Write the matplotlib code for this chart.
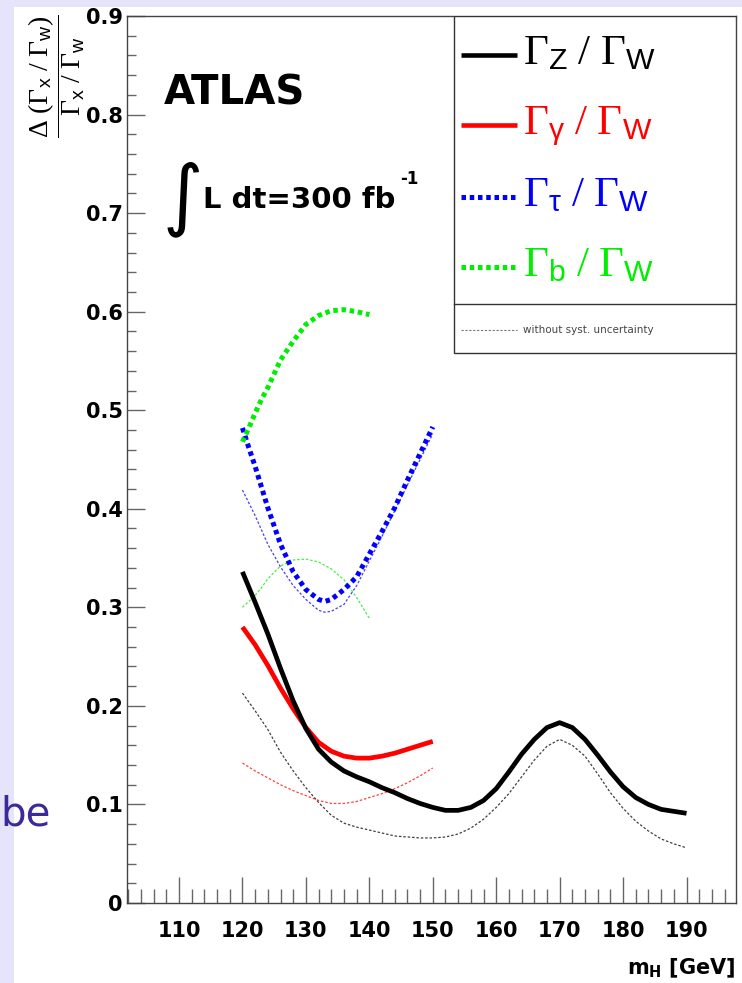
import matplotlib
matplotlib.use('Agg')
import matplotlib.pyplot as plt
from matplotlib.patches import Rectangle
from matplotlib.ticker import MultipleLocator, FuncFormatter

plt.rcParams['mathtext.fontset'] = 'custom'
plt.rcParams['mathtext.rm'] = 'Liberation Serif'
plt.rcParams['mathtext.it'] = 'Liberation Serif:italic'
plt.rcParams['mathtext.sf'] = 'Liberation Sans'
plt.rcParams['mathtext.bf'] = 'DejaVu Sans:bold'

# Gamma_Z / Gamma_W
mass_z = [120, 122, 124, 126, 128, 130, 132, 134, 136, 138, 140, 142, 144, 146, 148, 150,
          152, 154, 156, 158, 160, 162, 164, 166, 168, 170, 172, 174, 176, 178, 180, 182,
          184, 186, 188, 190]
ratio_z = [0.336, 0.305, 0.273, 0.238, 0.205, 0.177, 0.156, 0.143, 0.134, 0.128, 0.123, 0.117,
           0.112, 0.106, 0.101, 0.097, 0.094, 0.094, 0.097, 0.104, 0.116, 0.133, 0.151, 0.166,
           0.178, 0.183, 0.178, 0.166, 0.150, 0.133, 0.118, 0.107, 0.100, 0.095, 0.093, 0.091]
ratio_z_nosyst = [0.213, 0.195, 0.176, 0.153, 0.134, 0.117, 0.102, 0.089, 0.081, 0.077, 0.074,
                  0.071, 0.068, 0.067, 0.066, 0.066, 0.067, 0.070, 0.076, 0.085, 0.097, 0.111,
                  0.128, 0.145, 0.159, 0.166, 0.160, 0.149, 0.131, 0.112, 0.096, 0.083, 0.073,
                  0.065, 0.060, 0.056]

# Gamma_gamma / Gamma_W
mass_gamma = [120, 122, 124, 126, 128, 130, 132, 134, 136, 138, 140, 142, 144, 146, 148, 150]
ratio_gamma = [0.280, 0.262, 0.241, 0.218, 0.197, 0.178, 0.163, 0.154, 0.149, 0.147, 0.147,
               0.149, 0.152, 0.156, 0.160, 0.164]
ratio_gamma_nosyst = [0.142, 0.134, 0.127, 0.120, 0.114, 0.109, 0.104, 0.101, 0.101, 0.103,
                      0.107, 0.111, 0.116, 0.122, 0.129, 0.137]

# Gamma_tau / Gamma_W
mass_tau = [120, 121, 122, 124, 126, 128, 130, 132, 133, 134, 136, 138, 140, 142, 144, 146, 148, 150]
ratio_tau = [0.482, 0.462, 0.443, 0.401, 0.364, 0.336, 0.318, 0.308, 0.306, 0.308, 0.318, 0.331,
             0.354, 0.377, 0.401, 0.429, 0.456, 0.483]
ratio_tau_nosyst = [0.419, 0.406, 0.393, 0.364, 0.341, 0.322, 0.308, 0.297, 0.295, 0.296, 0.303,
                    0.322, 0.347, 0.372, 0.398, 0.424, 0.450, 0.476]

# Gamma_b / Gamma_W
mass_b = [120, 121, 122, 123, 124, 126, 128, 130, 132, 134, 136, 138, 140]
ratio_b = [0.468, 0.482, 0.497, 0.511, 0.523, 0.551, 0.570, 0.587, 0.596, 0.601, 0.602, 0.600, 0.597]
ratio_b_nosyst = [0.300, 0.306, 0.312, 0.320, 0.329, 0.342, 0.348, 0.349, 0.346, 0.339, 0.328,
                  0.310, 0.289]

legend_labels = [r'$\Gamma_{\mathsf{Z}}\ /\ \Gamma_{\mathsf{W}}$',
                 r'$\Gamma_{\mathsf{\gamma}}\ /\ \Gamma_{\mathsf{W}}$',
                 r'$\Gamma_{\mathsf{\tau}}\ /\ \Gamma_{\mathsf{W}}$',
                 r'$\Gamma_{\mathsf{b}}\ /\ \Gamma_{\mathsf{W}}$']
colors = ['black', '#ff0000', '#0000ff', '#00ee00']
dots = (0, (0.9, 0.75))

fig = plt.figure(figsize=(7.42, 9.83), dpi=100)
fig.patch.set_facecolor('#e4e4fa')
fig.add_artist(Rectangle((14 / 742, 0), 1, 1 - 7 / 983, transform=fig.transFigure,
                         facecolor='white', edgecolor='none', zorder=-1))

ax = fig.add_axes([127 / 742, 80 / 983, 609 / 742, 887 / 983])

# thin curves: without systematic uncertainty
thin = dict(lw=0.9, ls=(0, (2, 1.5)), alpha=0.75)
ax.plot(mass_z, ratio_z_nosyst, color=colors[0], **thin)
ax.plot(mass_gamma, ratio_gamma_nosyst, color=colors[1], **thin)
ax.plot(mass_tau, ratio_tau_nosyst, color=colors[2], **thin)
ax.plot(mass_b, ratio_b_nosyst, color=colors[3], **thin)

# thick curves
ax.plot(mass_gamma, ratio_gamma, color=colors[1], lw=3.4, solid_capstyle='butt')
ax.plot(mass_z, ratio_z, color=colors[0], lw=3.4, solid_capstyle='butt')
ax.plot(mass_tau, ratio_tau, color=colors[2], lw=3.6, ls=dots, dash_capstyle='butt')
ax.plot(mass_b, ratio_b, color=colors[3], lw=3.6, ls=dots, dash_capstyle='butt')

ax.set_xlim(101.8, 197.8)
ax.set_ylim(0, 0.9)
ax.xaxis.set_major_locator(MultipleLocator(10))
ax.xaxis.set_minor_locator(MultipleLocator(2))
ax.yaxis.set_major_locator(MultipleLocator(0.1))
ax.yaxis.set_minor_locator(MultipleLocator(0.02))
ax.yaxis.set_major_formatter(FuncFormatter(lambda v, p: '0' if abs(v) < 1e-9 else '%.1f' % v))

ax.tick_params(which='both', direction='in', top=False, right=False, color='#666666', width=1)
ax.xaxis.set_tick_params(which='major', length=19, pad=13)
ax.xaxis.set_tick_params(which='minor', length=10)
ax.yaxis.set_tick_params(which='major', length=13, pad=3)
ax.yaxis.set_tick_params(which='minor', length=6.5)
for lab in ax.get_xticklabels() + ax.get_yticklabels():
    lab.set_fontsize(15)
    lab.set_fontweight('bold')
    lab.set_family('DejaVu Sans')
for sp in ax.spines.values():
    sp.set_color('#444444')
    sp.set_linewidth(1)

ax.text(1.0, -0.060, r'm$_{\mathbf{H}}$ [GeV]', transform=ax.transAxes, ha='right', va='top',
        fontsize=15, fontweight='bold', family='DejaVu Sans')

fig.text(57 / 742, 1 - 14 / 983,
         r'$\dfrac{\Delta\ (\Gamma_{\mathsf{x}}\ /\ \Gamma_{\mathsf{w}})}{\Gamma_{\mathsf{x}}\ /\ \Gamma_{\mathsf{w}}}$',
         rotation=90, ha='center', va='top', fontsize=20)

# ATLAS label
ax.text(0.060, 0.900, 'ATLAS', transform=ax.transAxes, fontsize=29, fontweight='bold',
        family='DejaVu Sans', va='baseline')
ax.text(0.058, 0.770, '\u222b', transform=ax.transAxes, fontsize=56, family='DejaVu Sans',
        va='baseline')
ax.text(0.124, 0.784, 'L dt=300 fb', transform=ax.transAxes, fontsize=21,
        fontweight='bold', family='DejaVu Sans', va='baseline')
ax.text(0.449, 0.811, '-1', transform=ax.transAxes, fontsize=12,
        fontweight='bold', family='DejaVu Sans', va='baseline')

# legend box
x_left = (454 - 127) / 609
y_sep = (903 - 304) / 887
y_bot = (903 - 353) / 887
ax.add_patch(Rectangle((x_left, y_bot), 1 - x_left, 1 - y_bot, transform=ax.transAxes,
                       facecolor='white', edgecolor='#333333', lw=1, zorder=5))
ax.plot([x_left, 1], [y_sep, y_sep], transform=ax.transAxes, color='#333333', lw=1, zorder=6)
h0, h1, tx = (461 - 127) / 609, (517 - 127) / 609, (523 - 127) / 609
entry_y = [55, 125, 197, 267]
styles = [dict(lw=3.3), dict(lw=3.3), dict(lw=3.6, ls=dots), dict(lw=3.6, ls=dots)]
for lab, col, yy, st in zip(legend_labels, colors, entry_y, styles):
    yf = (903 - yy) / 887
    ax.plot([h0, h1], [yf, yf], transform=ax.transAxes, color=col, zorder=6,
            solid_capstyle='butt', dash_capstyle='butt', **st)
    ax.text(tx, (903 - yy - 9) / 887, lab, transform=ax.transAxes, color=col, fontsize=31,
            va='baseline', zorder=7)
yf = (903 - 330) / 887
ax.plot([h0, h1], [yf, yf], transform=ax.transAxes, color='#777777', lw=0.8,
        ls=(0, (2, 1.5)), zorder=6)
ax.text(tx, yf, 'without syst. uncertainty', transform=ax.transAxes, color='#444444',
        fontsize=7.5, va='center', zorder=7)

# slide text peeking in at the left edge
fig.text(0.0, 1 - 815 / 983, 'be', ha='left', va='center', color='#3a2a9a', fontsize=29)

fig.savefig('out.png', dpi=100, facecolor=fig.get_facecolor())
